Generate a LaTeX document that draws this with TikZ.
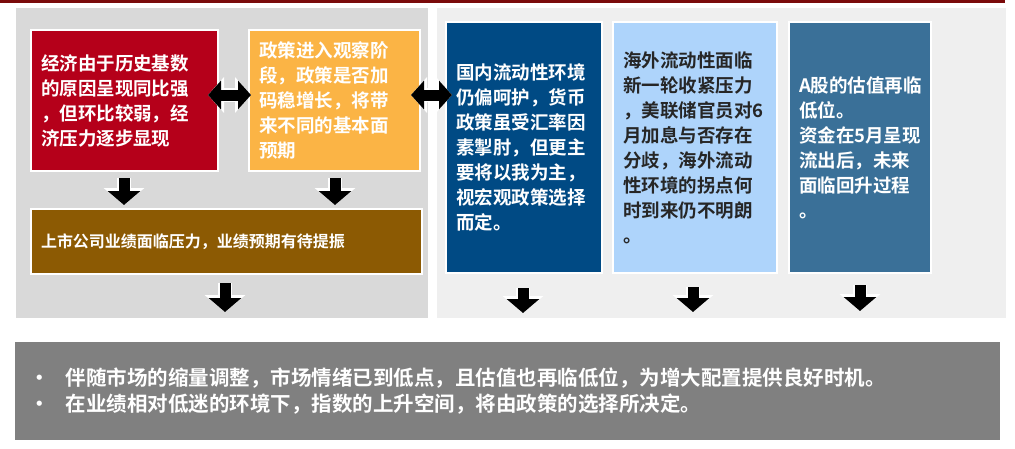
\documentclass[tikz,border=0pt]{standalone}
\usepackage{fontspec}
\newfontfamily\cjk{Noto Sans CJK SC Bold}
\usetikzlibrary{arrows.meta}
\definecolor{topred}{HTML}{7A0A0A}
\definecolor{pleft}{HTML}{D9D9D9}
\definecolor{pright}{HTML}{EFEFEF}
\definecolor{cred}{HTML}{B5001A}
\definecolor{corange}{HTML}{FBB445}
\definecolor{cbrown}{HTML}{8C5A03}
\definecolor{cblue}{HTML}{004A84}
\definecolor{clight}{HTML}{AED4FB}
\definecolor{csteel}{HTML}{3A7098}
\definecolor{cgray}{HTML}{808080}
\tikzset{
  box/.style={draw=white,line width=2pt,anchor=north west,inner xsep=10pt,inner ysep=0pt,text width=#1,font=\cjk\fontsize{18.5}{25}\selectfont,align=left},
  arrdown/.style={line width=11pt,-{Triangle[length=14pt,width=32pt]},preaction={draw=white,line width=14pt,-{Triangle[length=17pt,width=40pt]}}},
  arrboth/.style={line width=11pt,{Triangle[length=13pt,width=28pt]}-{Triangle[length=13pt,width=28pt]},preaction={draw=white,line width=14pt,{Triangle[length=16pt,width=35pt]}-{Triangle[length=16pt,width=35pt]}}}
}
\begin{document}
\begin{tikzpicture}[x=1pt,y=-1pt]
\useasboundingbox (0,0) rectangle (1015,448);
\fill[white] (0,0) rectangle (1015,448);
\fill[topred] (0,0) rectangle (1005,3);
\fill[pleft] (16,8) rectangle (428,318);
\fill[pright] (437,8) rectangle (1006,318);
% left boxes
\node[box=167pt,fill=cred,minimum height=141pt,text=white] (a) at (30,29) {经济由于历史基数\\的原因呈现同比强\\，但环比较弱，经\\济压力逐步显现};
\node[box=151pt,fill=corange,minimum height=141pt,text=white] (b) at (248,29) {政策进入观察阶\\段，政策是否加\\码稳增长，将带\\来不同的基本面\\预期};
\node[box=371pt,fill=cbrown,minimum height=65pt,text=white,font=\cjk\fontsize{16}{18}\selectfont] (c) at (30,208) {上市公司业绩面临压力，业绩预期有待提振};
% right boxes
\node[box=136pt,fill=cblue,minimum height=251pt,text=white] (d) at (445,21) {国内流动性环境\\仍偏呵护，货币\\政策虽受汇率因\\素掣肘，但更主\\要将以我为主，\\视宏观政策选择\\而定。};
\node[box=144pt,fill=clight,minimum height=251pt,text=black!85] (e) at (612,21) {海外流动性面临\\新一轮收紧压力\\，美联储官员对6\\月加息与否存在\\分歧，海外流动\\性环境的拐点何\\时到来仍不明朗\\。};
\node[box=122pt,fill=csteel,minimum height=251pt,text=white] (f) at (788,21) {A股的估值再临\\低位。\\资金在5月呈现\\流出后，未来\\面临回升过程\\。};
% bottom
\node[anchor=north west,fill=cgray,minimum height=98pt,inner sep=0pt,text=white,font=\cjk\fontsize{20.5}{26}\selectfont,align=left,text width=985pt] (g) at (15,342) {\hspace*{14pt}•\hspace{16pt}伴随市场的缩量调整，市场情绪已到低点，且估值也再临低位，为增大配置提供良好时机。\\\hspace*{14pt}•\hspace{16pt}在业绩相对低迷的环境下，指数的上升空间，将由政策的选择所决定。};
% connectors
\coordinate (a1) at (124,178); \coordinate (a2) at (124,205);
\coordinate (b1) at (335,178); \coordinate (b2) at (335,205);
\coordinate (c1) at (225,283); \coordinate (c2) at (225,312);
\coordinate (d1) at (523,288); \coordinate (d2) at (523,313);
\coordinate (e1) at (693,287); \coordinate (e2) at (693,312);
\coordinate (f1) at (860,285); \coordinate (f2) at (860,311);
\coordinate (ab1) at (208,95); \coordinate (ab2) at (251,95);
\coordinate (bd1) at (411,95); \coordinate (bd2) at (452,95);
\draw[arrdown] (a1) -- (a2);
\draw[arrdown] (b1) -- (b2);
\draw[arrdown] (c1) -- (c2);
\draw[arrdown] (d1) -- (d2);
\draw[arrdown] (e1) -- (e2);
\draw[arrdown] (f1) -- (f2);
\draw[arrboth] (ab1) -- (ab2);
\draw[arrboth] (bd1) -- (bd2);
\end{tikzpicture}
\end{document}
